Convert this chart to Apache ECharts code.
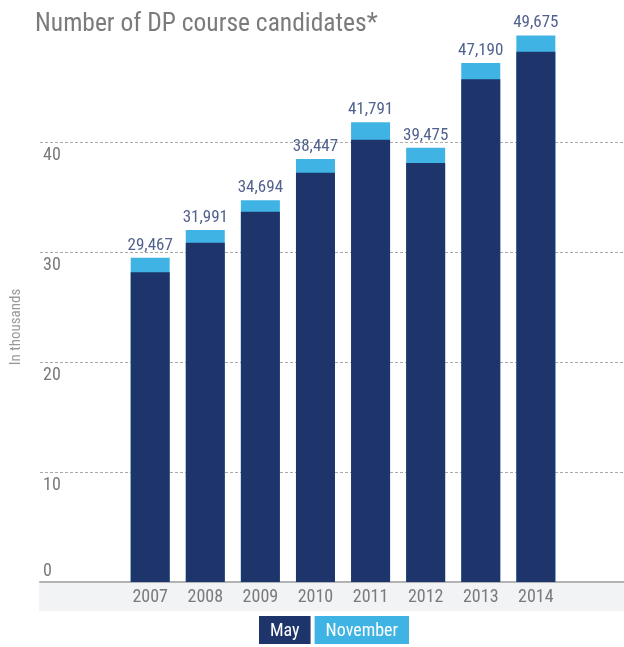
<!DOCTYPE html>
<html>
<head>
<meta charset="utf-8">
<script src="https://cdn.jsdelivr.net/npm/echarts@6/dist/echarts.min.js"></script>
<style>
  html, body { margin: 0; padding: 0; background: #fff; }
  #chart { width: 624px; height: 647px; }
</style>
</head>
<body>
<div id="chart"></div>
<script>
const years = [2007, 2008, 2009, 2010, 2011, 2012, 2013, 2014]
// in thousands; the light part on top of each bar is November
const totalValues = [29.467, 31.991, 34.694, 38.447, 41.791, 39.475, 47.190, 49.675]
const mayValues = [28.15, 30.85, 33.65, 37.2, 40.2, 38.1, 45.7, 48.2]
const totalLabels = ['29,467', '31,991', '34,694', '38,447', '41,791', '39,475', '47,190', '49,675']
const yTicks = [0, 10, 20, 30, 40]

const font = "'Liberation Sans Narrow', 'Roboto Condensed', 'Arial Narrow', Roboto, sans-serif"
const navy = '#1e356b'
const sky = '#3fb4e4'

const chart = echarts.init(document.getElementById('chart'))

chart.setOption({
  animation: false,
  textStyle: { fontFamily: font },
  title: {
    text: 'Number of DP course candidates*',
    left: 30,
    top: 7,
    textStyle: {
      fontFamily: font,
      fontSize: 25.5,
      fontWeight: 'normal',
      color: '#7b7b7b'
    }
  },
  legend: {
    left: 249,
    top: 611,
    itemWidth: 0,
    itemHeight: 0,
    itemGap: -1,
    selectedMode: false,
    formatter: function (name) {
      return name === 'May' ? '{m|May}' : '{n|November}'
    },
    textStyle: {
      rich: {
        m: { backgroundColor: navy, color: '#fff', fontSize: 18, fontFamily: font, padding: [6, 11, 4, 11] },
        n: { backgroundColor: sky, color: '#fff', fontSize: 18, fontFamily: font, padding: [6, 11, 4, 11] }
      }
    },
    data: ['May', 'November']
  },
  graphic: [{
    type: 'rect',
    z: -10,
    shape: { x: 39, y: 583, width: 585, height: 28 },
    style: { fill: '#f2f3f5' }
  }],
  grid: {
    left: 40,
    right: 0,
    top: 32,
    bottom: 65
  },
  xAxis: {
    type: 'value',
    min: 2005,
    max: 2015.6,
    interval: 1,
    axisLine: { show: true, onZero: false, lineStyle: { color: '#b3b3b3', width: 2 } },
    axisTick: { show: false },
    splitLine: { show: false },
    axisLabel: {
      margin: 6,
      fontSize: 18,
      color: '#7a7a7a',
      fontFamily: font,
      showMaxLabel: false,
      formatter: function (v) {
        return years.indexOf(v) >= 0 ? String(v) : ''
      }
    }
  },
  yAxis: {
    type: 'value',
    min: 0,
    max: 50,
    interval: 10,
    name: 'In thousands',
    nameLocation: 'middle',
    nameGap: 16,
    nameTextStyle: {
      color: '#9a9a9a',
      fontSize: 15,
      fontFamily: font,
      padding: [0, 40, 0, 0]
    },
    axisLine: { show: false },
    axisTick: { show: false },
    splitLine: {
      show: true,
      showMinLine: false,
      showMaxLine: false,
      lineStyle: { color: '#aaaaaa', type: [3, 2], width: 1 }
    },
    axisLabel: {
      inside: true,
      margin: 3,
      verticalAlign: 'middle',
      color: '#7a7a7a',
      fontFamily: font,
      formatter: function (v) {
        if (yTicks.indexOf(v) < 0) return ''
        return v === 0 ? '{z|0}' : '{t|' + v + '}'
      },
      rich: {
        t: { fontSize: 18, color: '#7a7a7a', fontFamily: font, padding: [26, 0, 0, 0] },
        z: { fontSize: 18, color: '#7a7a7a', fontFamily: font, padding: [0, 0, 21, 0] }
      }
    }
  },
  series: [
    {
      name: 'November',
      type: 'bar',
      barWidth: 39,
      color: sky,
      label: {
        show: true,
        position: 'top',
        distance: 4,
        fontSize: 17,
        fontFamily: font,
        color: '#51628f',
        formatter: function (p) {
          return totalLabels[p.dataIndex]
        }
      },
      data: years.map((y, i) => [y, totalValues[i]])
    },
    {
      name: 'May',
      type: 'bar',
      barWidth: 39,
      barGap: '-100%',
      color: navy,
      data: years.map((y, i) => [y, mayValues[i]])
    }
  ]
})
</script>
</body>
</html>
